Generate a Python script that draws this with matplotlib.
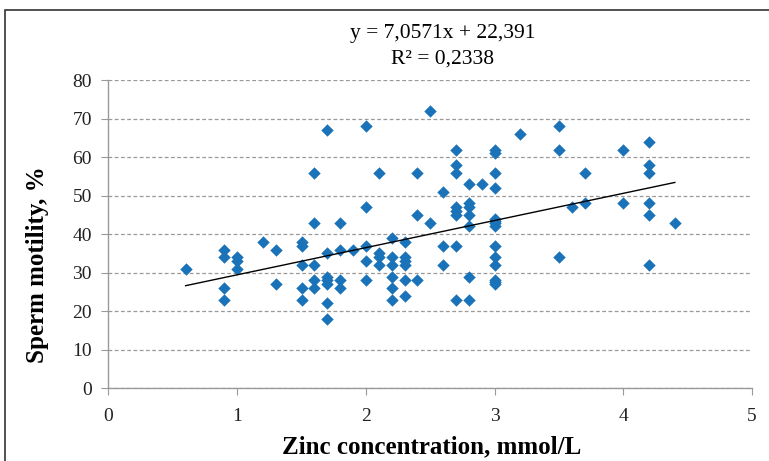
import numpy as np
import matplotlib.pyplot as plt
from matplotlib.patches import Rectangle

plt.rcParams['font.family'] = ['Liberation Serif', 'DejaVu Serif']

# zinc concentration (mmol/L) and sperm motility (%)
zinc = [0.6,
        0.9, 0.9, 0.9, 0.9,
        1.0, 1.0, 1.0,
        1.2,
        1.3, 1.3,
        1.5, 1.5, 1.5, 1.5, 1.5,
        1.6, 1.6, 1.6, 1.6, 1.6,
        1.7, 1.7, 1.7, 1.7, 1.7, 1.7, 1.7,
        1.8, 1.8, 1.8, 1.8,
        1.9,
        2.0, 2.0, 2.0, 2.0, 2.0,
        2.1, 2.1, 2.1, 2.1,
        2.2, 2.2, 2.2, 2.2, 2.2, 2.2,
        2.3, 2.3, 2.3, 2.3, 2.3, 2.3,
        2.4, 2.4, 2.4,
        2.5, 2.5,
        2.6, 2.6, 2.6,
        2.7, 2.7, 2.7, 2.7, 2.7, 2.7, 2.7, 2.7,
        2.8, 2.8, 2.8, 2.8, 2.8, 2.8, 2.8,
        2.9,
        3.0, 3.0, 3.0, 3.0, 3.0, 3.0, 3.0, 3.0, 3.0, 3.0, 3.0, 3.0, 3.0, 3.0,
        3.2,
        3.5, 3.5, 3.5,
        3.6,
        3.7, 3.7,
        4.0, 4.0,
        4.2, 4.2, 4.2, 4.2, 4.2, 4.2,
        4.4]
motility = [31,
            36, 34, 26, 23,
            34, 33, 31,
            38,
            36, 27,
            38, 37, 32, 26, 23,
            56, 43, 32, 28, 26,
            67, 35, 29, 28, 27, 22, 18,
            43, 36, 28, 26,
            36,
            68, 47, 37, 33, 28,
            56, 35, 34, 32,
            39, 34, 32, 29, 26, 23,
            38, 34, 33, 32, 28, 24,
            56, 45, 28,
            72, 43,
            51, 37, 32,
            62, 58, 56, 47, 46, 45, 37, 23,
            53, 48, 47, 45, 42, 29, 23,
            53,
            62, 61, 56, 52, 44, 43.5, 43, 42, 37, 34, 32, 28, 27, 27.5,
            66,
            68, 62, 34,
            47,
            56, 48,
            62, 48,
            64, 58, 56, 48, 45, 32,
            43]

slope = 7.0571
intercept = 22.391
fit_x = [0.6, 4.4]

fig = plt.figure(figsize=(7.69, 4.61), dpi=100)
ax = fig.add_axes([0.141, 0.158, 0.837, 0.668])

# frame around the whole chart
fig.patches.append(Rectangle((5 / 769, -0.1), 1.1, 1 - 10 / 461 + 0.1,
                             transform=fig.transFigure, fill=False,
                             edgecolor='#333333', linewidth=1.2))

ax.scatter(zinc, motility, marker='D', s=40, color='#1a73b8', zorder=3,
           linewidths=0)
fx = np.array(fit_x)
ax.plot(fx, slope * fx + intercept, color='black', linewidth=1.0, zorder=4)

ax.set_xlim(0, 5)
ax.set_ylim(0, 80)
ax.set_xticks(range(0, 6))
ax.set_yticks(range(0, 81, 10))
ax.yaxis.grid(True, linestyle=(0, (3, 2)), color='#999999', linewidth=0.9)
ax.set_axisbelow(True)
for s in ['top', 'right']:
    ax.spines[s].set_visible(False)
for s in ['left', 'bottom']:
    ax.spines[s].set_color('#999999')
    ax.spines[s].set_linewidth(1.0)
ax.tick_params(axis='both', colors='#999999', labelcolor='#222222',
               labelsize=14, length=5)
ax.tick_params(axis='x', pad=9)
ax.tick_params(axis='y', pad=7)

ax.set_xlabel('Zinc concentration, mmol/L', fontsize=18, fontweight='bold',
              va='center')
ax.set_ylabel('Sperm motility, %', fontsize=18, fontweight='bold',
              va='center')
ax.xaxis.set_label_coords(0.502, -0.19)
ax.yaxis.set_label_coords(-0.11, 0.40)

fig.text(0.576, 0.928, 'y = 7,0571x + 22,391', ha='center', va='center',
         fontsize=15.5)
fig.text(0.576, 0.872, 'R² = 0,2338', ha='center', va='center',
         fontsize=15.5)

fig.savefig('out.png', dpi=100)
